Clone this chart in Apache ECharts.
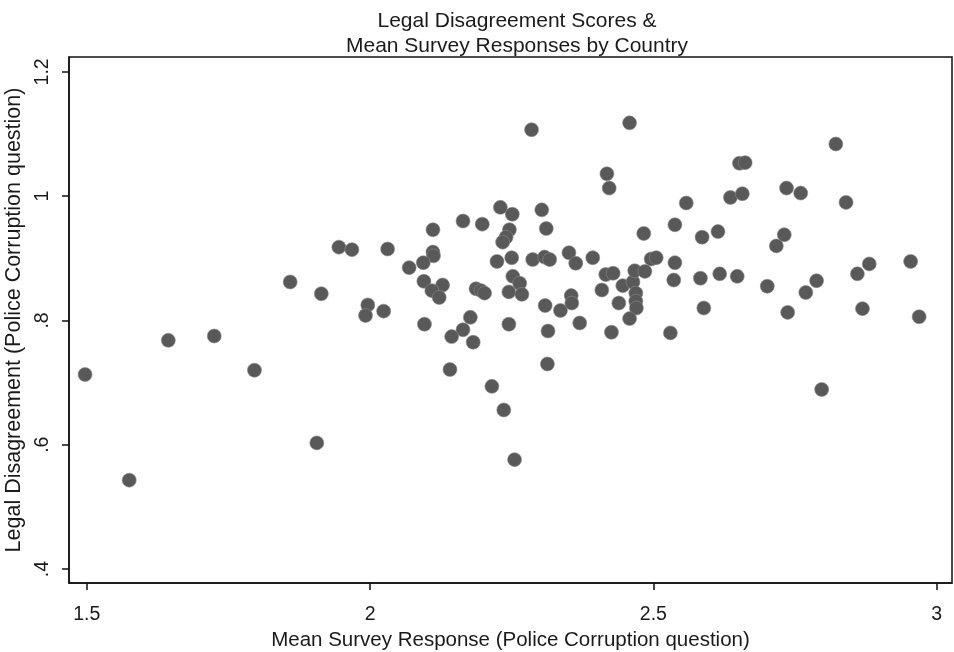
<!DOCTYPE html>
<html>
<head>
<meta charset="utf-8">
<script src="https://cdn.jsdelivr.net/npm/echarts@6/dist/echarts.min.js"></script>
<style>
html,body{margin:0;padding:0;background:#fff;}
#chart{width:954px;height:652px;}
</style>
</head>
<body>
<div id="chart"></div>
<script>
var xTickVals = [1.5, 2, 2.5, 3];
var xTickLabels = ["1.5", "2", "2.5", "3"];
var yTickVals = [0.4, 0.6, 0.8, 1, 1.2];
var yTickLabels = [".4", ".6", ".8", "1", "1.2"];

var surveyResponse = [
  1.497, 1.575, 1.644, 1.725, 1.796, 1.906, 1.859, 1.914, 1.996, 1.992,
  2.024, 2.096, 2.177, 2.164, 2.144, 2.182, 2.141, 2.215, 2.236, 2.255,
  2.245, 1.945, 1.968, 2.031, 2.111, 2.164, 2.198, 2.230, 2.251, 2.246,
  2.240, 2.234, 2.111, 2.112, 2.094, 2.069, 2.224, 2.250, 2.095, 2.128,
  2.109, 2.122, 2.187, 2.196, 2.202, 2.245, 2.252, 2.285, 2.458, 2.418,
  2.422, 2.558, 2.303, 2.311, 2.483, 2.538, 2.586, 2.614, 2.287, 2.308,
  2.317, 2.351, 2.363, 2.393, 2.496, 2.505, 2.538, 2.264, 2.268, 2.416,
  2.429, 2.409, 2.446, 2.464, 2.467, 2.485, 2.469, 2.536, 2.583, 2.617,
  2.355, 2.309, 2.336, 2.356, 2.370, 2.439, 2.469, 2.470, 2.458, 2.426,
  2.530, 2.589, 2.314, 2.313, 2.822, 2.652, 2.662, 2.636, 2.657, 2.735,
  2.760, 2.840, 2.731, 2.717, 2.648, 2.701, 2.788, 2.769, 2.860, 2.881,
  2.954, 2.737, 2.869, 2.969, 2.797
];
var legalDisagreement = [
  0.713, 0.543, 0.768, 0.775, 0.720, 0.603, 0.862, 0.843, 0.825, 0.808,
  0.815, 0.794, 0.805, 0.785, 0.774, 0.765, 0.721, 0.694, 0.656, 0.576,
  0.794, 0.918, 0.914, 0.915, 0.946, 0.960, 0.955, 0.982, 0.971, 0.946,
  0.934, 0.926, 0.910, 0.904, 0.893, 0.885, 0.895, 0.901, 0.863, 0.857,
  0.848, 0.837, 0.851, 0.848, 0.844, 0.846, 0.871, 1.107, 1.118, 1.036,
  1.013, 0.989, 0.978, 0.948, 0.940, 0.954, 0.934, 0.943, 0.898, 0.902,
  0.898, 0.909, 0.892, 0.901, 0.899, 0.901, 0.893, 0.860, 0.842, 0.874,
  0.876, 0.849, 0.856, 0.862, 0.880, 0.879, 0.844, 0.865, 0.868, 0.875,
  0.840, 0.824, 0.816, 0.828, 0.796, 0.828, 0.831, 0.820, 0.803, 0.781,
  0.780, 0.820, 0.783, 0.730, 1.084, 1.053, 1.054, 0.998, 1.004, 1.013,
  1.005, 0.990, 0.938, 0.920, 0.871, 0.855, 0.864, 0.845, 0.875, 0.891,
  0.895, 0.813, 0.819, 0.806, 0.689
];

var points = surveyResponse.map(function (x, i) { return [x, legalDisagreement[i]]; });

var FONT = '"Liberation Sans", Arial, sans-serif';
var chart = echarts.init(document.getElementById('chart'), null, {renderer: 'canvas'});
chart.setOption({
  animation: false,
  backgroundColor: '#ffffff',
  title: {
    text: 'Legal Disagreement Scores &\nMean Survey Responses by Country',
    left: 512, top: 4, textAlign: 'center',
    textStyle: {fontFamily: FONT, fontSize: 21, fontWeight: 'normal', color: '#1a1a1a', lineHeight: 25}
  },
  grid: {left: 69, top: 57, right: 2, bottom: 69, show: true, borderColor: '#111', borderWidth: 1.5,
         containLabel: false, outerBoundsMode: 'none'},
  xAxis: {
    type: 'value', min: 1.4687, max: 3.027,
    name: 'Mean Survey Response (Police Corruption question)',
    nameLocation: 'middle', nameGap: 42,
    nameTextStyle: {fontFamily: FONT, fontSize: 20.5, color: '#1a1a1a'},
    axisLine: {show: true, lineStyle: {color: '#111', width: 1.5}},
    axisTick: {show: true, customValues: xTickVals, length: 7, lineStyle: {color: '#111', width: 1.5}},
    axisLabel: {
      customValues: xTickVals, margin: 22,
      fontFamily: FONT, fontSize: 19.5, color: '#1a1a1a',
      formatter: function (v) { var i = xTickVals.indexOf(v); return i >= 0 ? xTickLabels[i] : ''; }
    },
    splitLine: {show: false}
  },
  yAxis: {
    type: 'value', min: 0.3775, max: 1.224,
    name: 'Legal Disagreement (Police Corruption question)',
    nameLocation: 'middle', nameGap: 34,
    nameTextStyle: {fontFamily: FONT, fontSize: 21.5, color: '#1a1a1a'},
    axisLine: {show: true, lineStyle: {color: '#111', width: 1.5}},
    axisTick: {show: true, customValues: yTickVals, length: 7, lineStyle: {color: '#111', width: 1.5}},
    axisLabel: {
      customValues: yTickVals, margin: 16, rotate: 90,
      fontFamily: FONT, fontSize: 19.5, color: '#1a1a1a',
      formatter: function (v) {
        for (var i = 0; i < yTickVals.length; i++) { if (Math.abs(yTickVals[i] - v) < 1e-9) return yTickLabels[i]; }
        return '';
      }
    },
    splitLine: {show: false}
  },
  series: [{
    type: 'scatter',
    data: points,
    symbol: 'circle',
    symbolSize: 14,
    itemStyle: {color: '#595959', borderColor: '#8a8a8a', borderWidth: 0.6, opacity: 1}
  }]
});
</script>
</body>
</html>
